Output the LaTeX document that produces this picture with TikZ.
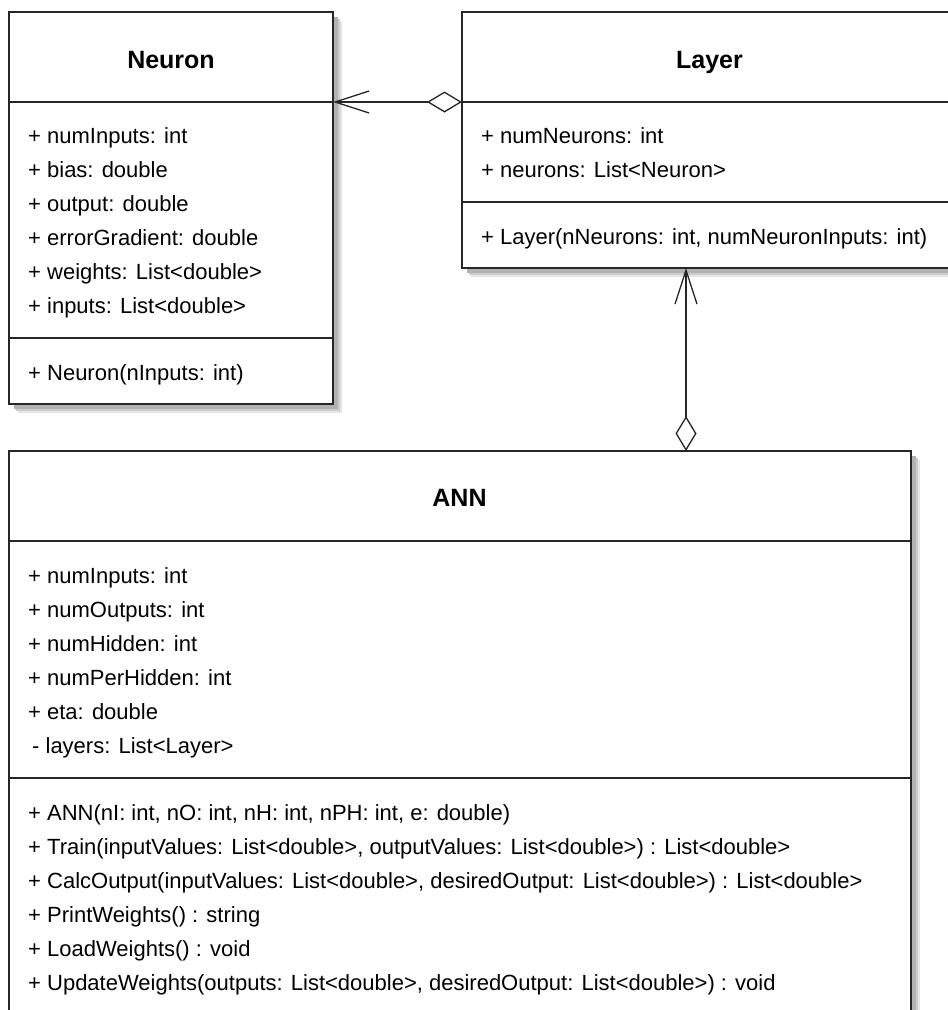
\documentclass[tikz,border=0pt]{standalone}
\usepackage{fontspec}
\setmainfont{Liberation Sans}
\usetikzlibrary{arrows.meta}
\begin{document}
\begin{tikzpicture}[x=1pt,y=-1pt,
  compart/.style={draw=black!85, line width=2pt, fill=white, anchor=north west, inner sep=0pt, outer sep=0pt},
  member/.style={anchor=base west, inner sep=0pt, font=\fontsize{22}{26}\selectfont},
  classname/.style={anchor=base, inner sep=0pt, font=\fontsize{25}{30}\selectfont\bfseries},
  assoc/.style={line width=1.3pt, draw=black!85, {Diamond[fill=white,length=35pt,width=21pt]}-{Straight Barb[length=34pt,width=22pt]}},
  shA/.style={fill=black!10},
  shB/.style={fill=black!20},
  shC/.style={fill=black!30}
]
\useasboundingbox (0,0) rectangle (948,1010);
\clip (0,0) rectangle (948,1010);

% shadows
\fill[shA] (18,21) rectangle (342,413);
\fill[shB] (16,19) rectangle (340,411);
\fill[shC] (14,17) rectangle (338,409);
\fill[shA] (471,21) rectangle (966,277);
\fill[shB] (469,19) rectangle (964,275);
\fill[shC] (467,17) rectangle (962,273);
\fill[shA] (18,460) rectangle (919.5,1040);
\fill[shB] (16,458) rectangle (917.5,1040);
\fill[shC] (14,456) rectangle (915.5,1040);

% Neuron
\node[compart, minimum width=324pt, minimum height=90pt] (neuronHead) at (9,12) {};
\node[compart, minimum width=324pt, minimum height=236pt] (neuronAttr) at (9,102) {};
\node[compart, minimum width=324pt, minimum height=66pt] (neuronMeth) at (9,338) {};
\node[classname] (neuronName) at (171,68) {Neuron};
\node[member] (n1) at (28,143) {+ numInputs: int};
\node[member] (n2) at (28,177) {+ bias: double};
\node[member] (n3) at (28,211) {+ output: double};
\node[member] (n4) at (28,245) {+ errorGradient: double};
\node[member] (n5) at (28,279) {+ weights: List<double>};
\node[member] (n6) at (28,313) {+ inputs: List<double>};
\node[member] (n7) at (28,380) {+ Neuron(nInputs: int)};

% Layer
\node[compart, minimum width=495pt, minimum height=90pt] (layerHead) at (462,12) {};
\node[compart, minimum width=495pt, minimum height=100pt] (layerAttr) at (462,102) {};
\node[compart, minimum width=495pt, minimum height=66pt] (layerMeth) at (462,202) {};
\node[classname] (layerName) at (709.5,68) {Layer};
\node[member] (l1) at (481,143) {+ numNeurons: int};
\node[member] (l2) at (481,177) {+ neurons: List<Neuron>};
\node[member] (l3) at (481,244) {+ Layer(nNeurons: int, numNeuronInputs: int)};

% ANN
\node[compart, minimum width=901.5pt, minimum height=90pt] (annHead) at (9,451) {};
\node[compart, minimum width=901.5pt, minimum height=237pt] (annAttr) at (9,541) {};
\node[compart, minimum width=901.5pt, minimum height=260pt] (annMeth) at (9,778) {};
\node[classname] (annName) at (459.5,506) {ANN};
\node[member] (a1) at (28,583) {+ numInputs: int};
\node[member] (a2) at (28,617) {+ numOutputs: int};
\node[member] (a3) at (28,651) {+ numHidden: int};
\node[member] (a4) at (28,685) {+ numPerHidden: int};
\node[member] (a5) at (28,719) {+ eta: double};
\node[member] (a6) at (32,753) {- layers: List<Layer>};
\node[member] (m1) at (28,820) {+ ANN(nI: int, nO: int, nH: int, nPH: int, e: double)};
\node[member] (m2) at (28,854) {+ Train(inputValues: List<double>, outputValues: List<double>) : List<double>};
\node[member] (m3) at (28,888) {+ CalcOutput(inputValues: List<double>, desiredOutput: List<double>) : List<double>};
\node[member] (m4) at (28,922) {+ PrintWeights() : string};
\node[member] (m5) at (28,956) {+ LoadWeights() : void};
\node[member] (m6) at (28,990) {+ UpdateWeights(outputs: List<double>, desiredOutput: List<double>) : void};

% connectors
\draw[assoc] (layerHead.south west) -- (neuronHead.south east);
\path (annHead.north west) ++(677,0) coordinate (annHook);
\path (layerMeth.south west) ++(224,0) coordinate (layerHook);
\draw[assoc] (annHook) -- (layerHook);
\end{tikzpicture}
\end{document}
